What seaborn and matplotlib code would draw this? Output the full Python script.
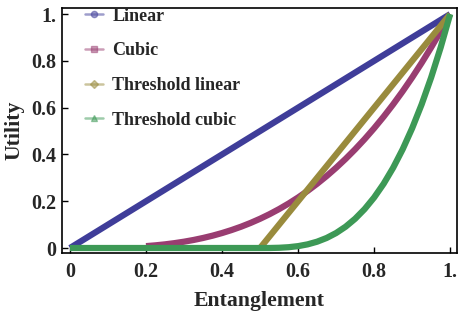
import matplotlib
matplotlib.use("Agg")
import matplotlib.pyplot as plt
from matplotlib.lines import Line2D
import seaborn as sns
import pandas as pd

sns.set_style("white")
plt.rcParams['font.family'] = ['Liberation Serif', 'DejaVu Serif']
plt.rcParams['font.weight'] = 'bold'

series_names = ["Linear", "Cubic", "Threshold linear", "Threshold cubic"]
colors = ["#3f3d99", "#993d71", "#998b3d", "#3d9956"]
markers = ["o", "s", "D", "^"]

linear_x = [0.0, 0.1, 0.2, 0.3, 0.4, 0.5, 0.6, 0.7, 0.8, 0.9, 1.0]
linear_y = [0.0, 0.1, 0.2, 0.3, 0.4, 0.5, 0.6, 0.7, 0.8, 0.9, 1.0]

cubic_x = [0.2, 0.225, 0.25, 0.275, 0.3, 0.325, 0.35, 0.375, 0.4, 0.425, 0.45,
           0.475, 0.5, 0.525, 0.55, 0.575, 0.6, 0.625, 0.65, 0.675, 0.7, 0.725,
           0.75, 0.775, 0.8, 0.825, 0.85, 0.875, 0.9, 0.925, 0.95, 0.975, 1.0]
cubic_y = [0.008, 0.0114, 0.0156, 0.0208, 0.027, 0.0343, 0.0429, 0.0527, 0.064,
           0.0768, 0.0911, 0.1072, 0.125, 0.1447, 0.1664, 0.1901, 0.216, 0.2441,
           0.2746, 0.3075, 0.343, 0.3811, 0.4219, 0.4655, 0.512, 0.5615, 0.6141,
           0.6699, 0.729, 0.7915, 0.8574, 0.9268, 1.0]

thr_lin_x = [0.5, 0.55, 0.6, 0.65, 0.7, 0.75, 0.8, 0.85, 0.9, 0.95, 1.0]
thr_lin_y = [0.0, 0.1, 0.2, 0.3, 0.4, 0.5, 0.6, 0.7, 0.8, 0.9, 1.0]

thr_cub_x = [0.0, 0.1, 0.2, 0.3, 0.4, 0.5, 0.525, 0.55, 0.575, 0.6, 0.625, 0.65,
             0.675, 0.7, 0.725, 0.75, 0.775, 0.8, 0.825, 0.85, 0.875, 0.9, 0.925,
             0.95, 0.975, 1.0]
thr_cub_y = [0.0, 0.0, 0.0, 0.0, 0.0, 0.0, 0.0001, 0.001, 0.0034, 0.008, 0.0156,
             0.027, 0.0429, 0.064, 0.0911, 0.125, 0.1664, 0.216, 0.2746, 0.343,
             0.4219, 0.512, 0.6141, 0.729, 0.8574, 1.0]

x_ticks = [0, 0.2, 0.4, 0.6, 0.8, 1.0]
x_tick_labels = ["0", "0.2", "0.4", "0.6", "0.8", "1."]
y_ticks = [0, 0.2, 0.4, 0.6, 0.8, 1.0]
y_tick_labels = ["0", "0.2", "0.4", "0.6", "0.8", "1."]

frames = []
for name, xs, ys in zip(series_names,
                        [linear_x, cubic_x, thr_lin_x, thr_cub_x],
                        [linear_y, cubic_y, thr_lin_y, thr_cub_y]):
    frames.append(pd.DataFrame({"x": xs, "y": ys, "series": name}))
df = pd.concat(frames, ignore_index=True)

fig = plt.figure(figsize=(4.6, 3.13), dpi=100)
ax = fig.add_axes([0.1348, 0.1927, 0.8587, 0.7817])

sns.lineplot(data=df, x="x", y="y", hue="series", hue_order=series_names,
             palette=colors, linewidth=4.5, sort=False, estimator=None,
             legend=False, ax=ax)
for ln in ax.lines:
    ln.set_solid_capstyle("butt")

ax.set_xlim(-0.021, 1.018)
ax.set_ylim(-0.02, 1.026)
ax.set_xticks(x_ticks)
ax.set_xticklabels(x_tick_labels)
ax.set_yticks(y_ticks)
ax.set_yticklabels(y_tick_labels)
ax.tick_params(axis="both", direction="in", length=4, width=1, labelsize=14.5,
               color="black", bottom=True, left=True, top=False, right=False)
ax.tick_params(axis="x", pad=7)
ax.tick_params(axis="y", pad=4)
for lab in ax.get_xticklabels() + ax.get_yticklabels():
    lab.set_fontweight("bold")
for sp in ax.spines.values():
    sp.set_visible(True)
    sp.set_color("black")
    sp.set_linewidth(1.2)

ax.set_xlabel("Entanglement", fontsize=15.7, fontweight="bold", labelpad=6)
ax.set_ylabel("Utility", fontsize=15.7, fontweight="bold", labelpad=5)

handles = [Line2D([0], [0], color=c, alpha=0.5, lw=1.8, marker=m,
                  markersize=4.5, markerfacecolor=c, markeredgecolor=c)
           for c, m in zip(colors, markers)]
leg = ax.legend(handles, series_names, loc="upper left", frameon=False,
                bbox_to_anchor=(0.018, 1.068), handlelength=1.0,
                handletextpad=0.5, labelspacing=0.98,
                prop={"weight": "bold", "size": 13})

fig.savefig("out.png", dpi=100)
